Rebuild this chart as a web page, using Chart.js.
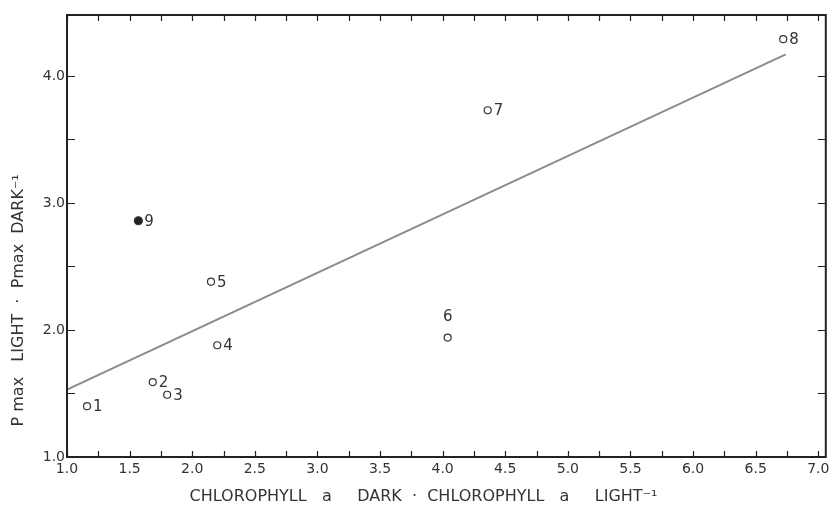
<!DOCTYPE html>
<html>
<head>
<meta charset="utf-8">
<script src="https://cdn.jsdelivr.net/npm/chart.js@4"></script>
<style>
html, body { margin: 0; padding: 0; background: #fff; }
</style>
</head>
<body>
<canvas id="chl" width="831" height="513"></canvas>
<script>
// values, one entry per station

stations  = ['1', '2', '3', '4', '5', '6', '7', '8', '9']
chlRatio  = [1.16, 1.685, 1.80, 2.20, 2.15, 4.04, 4.36, 6.72, 1.57]
pmaxRatio = [1.40, 1.59, 1.49, 1.88, 2.38, 1.94, 3.73, 4.29, 2.86]
filled    = [false, false, false, false, false, false, false, false, true]
labelAbove = [false, false, false, false, false, true, false, false, false]

// fitted line, end points
fitX = [1.0, 6.74]
fitY = [1.53, 4.17]

// axis ticks
xTicks = [1.0, 1.25, 1.5, 1.75, 2.0, 2.25, 2.5, 2.75, 3.0, 3.25, 3.5, 3.75, 4.0, 4.25,
          4.5, 4.75, 5.0, 5.25, 5.5, 5.75, 6.0, 6.25, 6.5, 6.75, 7.0]
xTickLabels = ['1.0', '', '1.5', '', '2.0', '', '2.5', '', '3.0', '', '3.5', '', '4.0', '',
               '4.5', '', '5.0', '', '5.5', '', '6.0', '', '6.5', '', '7.0']
yTicks = [1.0, 1.5, 2.0, 2.5, 3.0, 3.5, 4.0]
yTickLabels = ['1.0', '', '2.0', '', '3.0', '', '4.0']

var ink = '#333'
var tickFont = { family: 'DejaVu Sans', size: 14 }
var titleFont = { family: 'DejaVu Sans', size: 16 }

// box round the plot, with the short inward ticks on all four sides
var framePlugin = {
  id: 'frame',
  afterDraw: function(chart) {
    var ctx = chart.ctx, a = chart.chartArea
    var x = chart.scales.x, y = chart.scales.y
    ctx.save()
    ctx.strokeStyle = '#222'
    ctx.lineWidth = 1.2
    ctx.beginPath()
    x.ticks.forEach(function(t) {
      var px = Math.round(x.getPixelForValue(t.value)) + 0.5
      ctx.moveTo(px, a.bottom); ctx.lineTo(px, a.bottom - 6)
      ctx.moveTo(px, a.top); ctx.lineTo(px, a.top + 6)
    })
    y.ticks.forEach(function(t) {
      var py = Math.round(y.getPixelForValue(t.value)) + 0.5
      ctx.moveTo(a.left, py); ctx.lineTo(a.left + 8, py)
      ctx.moveTo(a.right, py); ctx.lineTo(a.right - 8, py)
    })
    ctx.stroke()
    ctx.lineWidth = 2
    ctx.strokeRect(a.left, a.top, a.right - a.left, a.bottom - a.top)
    ctx.restore()
  }
}

// station numbers next to the points
var labelPlugin = {
  id: 'stationLabels',
  afterDatasetsDraw: function(chart) {
    var ctx = chart.ctx
    var meta = chart.getDatasetMeta(0)
    ctx.save()
    ctx.fillStyle = ink
    ctx.font = '15px "DejaVu Sans"'
    ctx.textBaseline = 'middle'
    meta.data.forEach(function(pt, i) {
      if (labelAbove[i]) {
        ctx.textAlign = 'center'
        ctx.fillText(stations[i], pt.x, pt.y - 20)
      } else {
        ctx.textAlign = 'left'
        ctx.fillText(stations[i], pt.x + 6, pt.y + 1)
      }
    })
    ctx.restore()
  }
}

var ctx = document.getElementById('chl').getContext('2d')

var chart = new Chart(ctx, {
  type: 'scatter',
  data: {
    datasets: [
      {
        label: 'stations',
        data: chlRatio.map(function(v, i) { return { x: v, y: pmaxRatio[i] } }),
        pointRadius: filled.map(function(f) { return f ? 4 : 3.5 }),
        pointBorderWidth: 1.2,
        pointBorderColor: ink,
        pointBackgroundColor: filled.map(function(f) { return f ? '#222' : '#fff' })
      },
      {
        type: 'line',
        label: 'fit',
        data: fitX.map(function(v, i) { return { x: v, y: fitY[i] } }),
        borderColor: '#8c8c8c',
        borderWidth: 2,
        pointRadius: 0,
        fill: false
      }
    ]
  },
  options: {
    responsive: false,
    animation: false,
    layout: { padding: { top: 15, right: 2, left: 0, bottom: 0 } },
    plugins: {
      legend: { display: false },
      tooltip: { enabled: false }
    },
    scales: {
      x: {
        type: 'linear',
        min: 1.0,
        max: 7.06,
        afterBuildTicks: function(s) { s.ticks = xTicks.map(function(v) { return { value: v } }) },
        afterFit: function(s) {
          s.height = 56
          s.paddingRight = 0   // let the 7.0 label run into the margin
          s.paddingLeft = 0
        },
        grid: { display: false, drawTicks: false },
        border: { display: false },
        ticks: {
          autoSkip: false,
          maxRotation: 0,
          padding: 4,
          color: ink,
          font: tickFont,
          callback: function(v, i) { return xTickLabels[i] }
        },
        title: {
          display: true,
          text: 'CHLOROPHYLL   a     DARK  ·  CHLOROPHYLL   a     LIGHT⁻¹         ',
          color: ink,
          font: titleFont,
          padding: { top: 0, bottom: 7 }
        }
      },
      y: {
        type: 'linear',
        min: 1.0,
        max: 4.48,
        afterBuildTicks: function(s) { s.ticks = yTicks.map(function(v) { return { value: v } }) },
        afterFit: function(s) { s.width = 67 },
        grid: { display: false, drawTicks: false },
        border: { display: false },
        ticks: {
          autoSkip: false,
          padding: 2,
          color: ink,
          font: tickFont,
          callback: function(v, i) { return yTickLabels[i] }
        },
        title: {
          display: true,
          align: 'start',
          text: '      P max   LIGHT  ·  Pmax  DARK⁻¹',
          color: ink,
          font: titleFont,
          padding: { top: 9, bottom: 0 }
        }
      }
    }
  },
  plugins: [framePlugin, labelPlugin]
})
</script>
</body>
</html>
